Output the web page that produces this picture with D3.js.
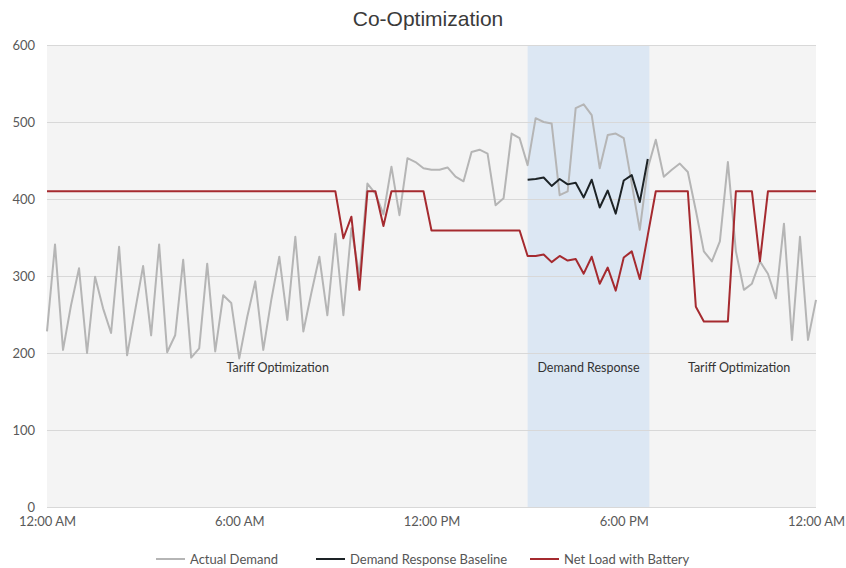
<!DOCTYPE html>
<html>
<head>
<meta charset="utf-8">
<script src="https://cdn.jsdelivr.net/npm/d3@7/dist/d3.min.js"></script>
<style>
  body { margin: 0; background: #fff; }
  svg { display: block; }
  .title { font-family: "Liberation Sans", Arial, sans-serif; font-size: 21px; fill: #3a3a3a; }
  .note { font-family: Lato, "Open Sans", sans-serif; font-size: 12.5px; fill: #333; }
  .legend text { font-family: Lato, "Open Sans", sans-serif; font-size: 13px; fill: #555; }
</style>
</head>
<body>
<svg width="846" height="568"></svg>
<script>
'use strict';

// readings every 15 minutes, 12:00 AM to 12:00 AM
const stepHours = 0.25;

const actualDemand = [
  228, 341, 204, 262, 310, 200, 299, 258, 226, 338,
  197, 255, 313, 223, 341, 201, 223, 321, 194, 206,
  316, 202, 275, 265, 193, 247, 293, 204, 269, 325,
  243, 351, 228, 278, 325, 249, 355, 249, 362, 300,
  420, 407, 380, 442, 379, 453, 448, 440, 438, 438,
  441, 429, 423, 461, 464, 459, 392, 401, 485, 479,
  444, 505, 500, 498, 405, 410, 518, 523, 509, 440,
  483, 485, 479, 420, 360, 440, 477, 429, 438, 446,
  435, 385, 332, 319, 345, 448, 332, 282, 290, 319,
  303, 271, 368, 217, 351, 217, 269
];

const netLoad = [
  410, 410, 410, 410, 410, 410, 410, 410, 410, 410,
  410, 410, 410, 410, 410, 410, 410, 410, 410, 410,
  410, 410, 410, 410, 410, 410, 410, 410, 410, 410,
  410, 410, 410, 410, 410, 410, 410, 349, 377, 282,
  410, 410, 365, 410, 410, 410, 410, 410, 359, 359,
  359, 359, 359, 359, 359, 359, 359, 359, 359, 359,
  326, 326, 328, 318, 326, 320, 322, 303, 325, 290,
  311, 281, 324, 332, 296, 353, 410, 410, 410, 410,
  410, 260, 241, 241, 241, 241, 410, 410, 410, 319,
  410, 410, 410, 410, 410, 410, 410
];

// baseline only exists during the demand response window
const baselineStart = 60;
const baseline = [425, 426, 428, 417, 426, 419, 421, 402, 425, 389, 411, 381, 424, 431, 396, 452];

const responseWindow = [15, 18.8]; // hours
const yTicks = [0, 100, 200, 300, 400, 500, 600];
const xTicks = [0, 6, 12, 18, 24];
const xTickLabels = ['12:00 AM', '6:00 AM', '12:00 PM', '6:00 PM', '12:00 AM'];

const notes = [
  { text: 'Tariff Optimization', hour: 7.2 },
  { text: 'Demand Response', hour: 16.9 },
  { text: 'Tariff Optimization', hour: 21.6 }
];

const legendItems = [
  { label: 'Actual Demand', color: '#b5b5b5', x: 156 },
  { label: 'Demand Response Baseline', color: '#1d2326', x: 316 },
  { label: 'Net Load with Battery', color: '#a52a2f', x: 530 }
];

const svg = d3.select('svg');
const margin = { top: 45, right: 30, bottom: 61, left: 47 };
const width = +svg.attr('width');
const height = +svg.attr('height');
const innerWidth = width - margin.left - margin.right;
const innerHeight = height - margin.top - margin.bottom;

const xScale = d3.scaleLinear().domain([0, 24]).range([0, innerWidth]);
const yScale = d3.scaleLinear().domain([0, 600]).range([innerHeight, 0]);

const g = svg.append('g')
  .attr('transform', `translate(${margin.left},${margin.top})`);

g.append('rect')
  .attr('width', innerWidth)
  .attr('height', innerHeight)
  .attr('fill', '#f4f4f4');

g.append('rect')
  .attr('x', xScale(responseWindow[0]))
  .attr('width', xScale(responseWindow[1]) - xScale(responseWindow[0]))
  .attr('height', innerHeight)
  .attr('fill', '#dce7f3');

const styleAxis = sel => {
  sel.attr('font-family', 'Lato, "Open Sans", sans-serif').attr('font-size', 13);
  sel.select('.domain').remove();
  sel.selectAll('.tick text').attr('fill', '#595959');
};

const yAxisG = g.append('g')
  .call(d3.axisLeft(yScale).tickValues(yTicks).tickSize(-innerWidth).tickPadding(12))
  .call(styleAxis);
yAxisG.selectAll('.tick line').attr('stroke', '#d8d8d8').attr('stroke-width', 1.2);

g.append('g')
  .attr('transform', `translate(0,${innerHeight})`)
  .call(d3.axisBottom(xScale).tickValues(xTicks).tickSize(0).tickPadding(10)
    .tickFormat((d, i) => xTickLabels[i]))
  .call(styleAxis);

const line = d3.line()
  .x(d => xScale(d.i * stepHours))
  .y(d => yScale(d.v));

const drawSeries = (values, offset, color) => {
  g.append('path')
    .datum(values.map((v, k) => ({ i: k + offset, v: v })))
    .attr('fill', 'none')
    .attr('stroke', color)
    .attr('stroke-width', 2)
    .attr('stroke-linejoin', 'round')
    .attr('d', line);
};

drawSeries(actualDemand, 0, legendItems[0].color);
drawSeries(netLoad, 0, legendItems[2].color);
drawSeries(baseline, baselineStart, legendItems[1].color);

g.selectAll('.note').data(notes)
  .enter().append('text')
    .attr('class', 'note')
    .attr('x', d => xScale(d.hour))
    .attr('y', yScale(175))
    .attr('text-anchor', 'middle')
    .text(d => d.text);

svg.append('text')
  .attr('class', 'title')
  .attr('x', 428)
  .attr('y', 26)
  .attr('text-anchor', 'middle')
  .text('Co-Optimization');

const legend = svg.append('g').attr('class', 'legend')
  .attr('transform', 'translate(0,559)');

const item = legend.selectAll('g').data(legendItems)
  .enter().append('g')
    .attr('transform', d => `translate(${d.x},0)`);

item.append('line')
  .attr('x1', 0).attr('x2', 29)
  .attr('stroke', d => d.color)
  .attr('stroke-width', 2);

item.append('text')
  .attr('x', 34)
  .attr('dy', '0.35em')
  .text(d => d.label);
</script>
</body>
</html>
